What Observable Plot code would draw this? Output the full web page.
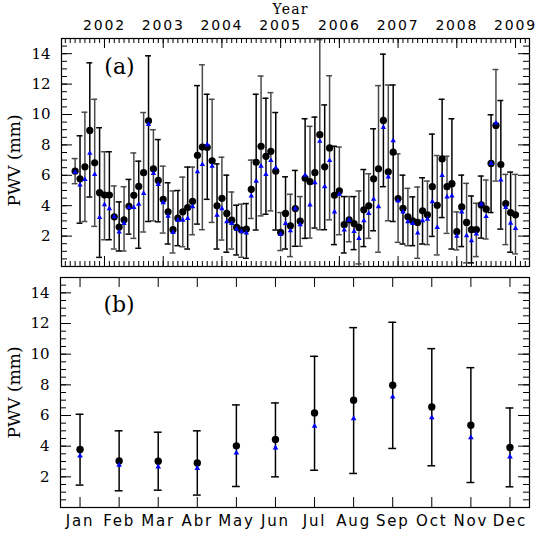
<!DOCTYPE html>
<html><head><meta charset="utf-8">
<script src="https://cdn.jsdelivr.net/npm/d3@7"></script>
<script src="https://cdn.jsdelivr.net/npm/@observablehq/plot@0.6"></script>
<style>
html,body{margin:0;padding:0;background:#fff;}
#chart{position:relative;width:558px;height:558px;background:#fff;}
#chart svg{position:absolute;left:0;}
</style></head><body><div id="chart"></div>
<script>
// Monthly series, July 2001 .. January 2009
const startYear = 2001, startMonth = 7;
const pwvMean = [6.27,5.77,6.56,8.95,6.82,4.86,
  4.70,4.70,3.27,2.60,3.07,3.96,4.68,5.27,6.17,9.59,6.43,5.66,
  4.42,3.60,2.42,3.18,3.60,3.88,4.29,7.32,7.86,7.84,6.95,3.99,
  4.49,3.49,3.05,2.57,2.40,2.46,5.08,6.86,7.91,7.25,7.58,6.27,
  2.24,3.49,2.68,3.81,2.98,5.80,5.58,6.17,8.67,6.56,7.80,4.68,
  4.97,2.75,3.07,2.83,2.57,3.73,3.99,5.77,6.43,9.61,6.23,7.52,
  4.47,3.83,3.27,3.01,2.90,3.66,3.40,5.25,4.03,7.08,5.25,5.45,
  2.29,3.92,2.90,2.42,2.42,4.05,3.77,6.78,9.28,6.71,4.14,3.55,
  3.40];
const pwvTri = [6.20,5.36,5.73,7.45,6.06,3.22,
  4.07,3.81,3.27,2.27,2.83,3.88,3.88,4.10,4.81,9.35,6.12,5.40,
  4.20,3.31,2.24,3.05,3.05,3.16,3.94,6.23,6.71,8.02,6.60,3.38,
  3.81,2.94,2.83,2.46,2.29,2.20,4.64,5.62,6.60,6.06,6.97,6.49,
  2.13,2.83,2.35,3.81,2.75,6.01,4.05,5.51,8.24,5.25,6.97,3.59,
  4.75,2.40,3.05,2.31,1.85,3.01,3.49,4.42,3.94,9.15,5.90,8.28,
  4.31,3.59,2.94,2.83,2.20,3.01,3.12,4.27,2.57,5.99,4.58,4.64,
  2.00,3.59,2.03,1.70,2.14,4.10,3.29,6.78,9.43,5.69,3.88,2.85,
  2.51];
const errLow = [5.45,2.85,2.96,4.57,2.64,0.60,
  1.76,1.76,1.15,1.02,1.02,2.13,1.85,1.20,2.27,2.96,3.00,2.94,
  2.20,1.48,0.89,1.37,1.30,1.15,2.09,2.79,2.42,4.42,2.90,1.15,
  1.74,0.94,1.15,0.76,0.61,0.54,3.16,2.40,3.33,3.44,3.66,2.40,
  1.05,1.15,0.65,1.33,1.33,1.85,1.87,2.53,2.42,2.42,3.07,1.44,
  2.09,0.89,1.63,1.11,0.17,1.31,1.85,2.35,0.94,5.25,3.01,2.96,
  1.59,1.48,1.37,1.37,0.54,1.48,1.44,1.98,0.76,3.22,2.18,1.15,
  1.09,1.31,0.24,0.24,0.65,1.87,1.81,3.55,5.62,2.46,1.44,0.94,
  0.83];
const errHigh = [7.10,8.60,10.15,13.40,11.00,9.13,
  7.55,7.55,5.30,4.25,5.25,5.73,7.47,6.93,10.13,13.86,9.00,8.35,
  6.60,5.51,4.97,5.00,5.88,6.54,6.54,11.90,13.27,11.33,11.00,6.75,
  7.19,6.01,4.90,4.03,4.10,4.14,7.00,11.33,12.53,11.07,11.44,10.13,
  3.55,5.90,4.75,6.32,4.60,9.72,9.22,9.83,14.92,10.63,12.55,7.91,
  7.86,4.60,4.60,4.60,4.97,6.38,6.10,9.06,11.90,13.97,11.94,11.94,
  7.41,6.01,5.14,4.58,5.23,5.84,5.62,8.71,7.30,11.00,7.25,9.72,
  3.59,6.01,5.47,4.64,4.16,5.95,5.69,9.98,12.96,10.92,6.06,6.21,
  6.06];
const yearTicks = [2002,2003,2004,2005,2006,2007,2008,2009];

// Monthly climatology
const monthLabels = ["Jan","Feb","Mar","Abr","May","Jun","Jul","Aug","Sep","Oct","Nov","Dec"];
const climMean = [3.78,3.04,3.02,2.91,4.02,4.43,6.17,7.00,7.97,6.56,5.36,3.91];
const climTri  = [3.37,2.76,2.65,2.56,3.56,3.89,5.30,5.80,7.21,5.86,4.56,3.31];
const climLow  = [1.46,1.09,1.13,0.81,1.37,2.00,2.43,2.22,3.85,2.72,1.63,1.35];
const climHigh = [6.08,5.00,4.91,5.00,6.69,6.82,9.86,11.73,12.08,10.36,9.12,6.49];

const yLabels = [2,4,6,8,10,12,14];

const SERIF = "DejaVu Serif", SANS = "DejaVu Sans";
const W = 558;

const monthly = pwvMean.map((v, i) => ({
  t: startYear + (startMonth - 1 + i) / 12,
  mean: v, tri: pwvTri[i], lo: errLow[i], hi: errHigh[i], k: i % 2
}));
const clim = climMean.map((v, i) => ({
  m: i + 1, label: monthLabels[i], mean: v, tri: climTri[i], lo: climLow[i], hi: climHigh[i]
}));

const yMinor = d3.range(1, 30).map(i => i / 2);

function yTickMarks(fw) {
  return [
    Plot.ruleY(yMinor, {y: d => d, insetRight: fw - 6, stroke: "#000"}),
    Plot.ruleY(yLabels, {y: d => d, insetRight: fw - 11, stroke: "#000"}),
    Plot.ruleY(yMinor, {y: d => d, insetLeft: fw - 6, stroke: "#000"}),
    Plot.ruleY(yLabels, {y: d => d, insetLeft: fw - 11, stroke: "#000"}),
    Plot.text(yLabels, {y: d => d, text: d => String(d), frameAnchor: "left", dx: -11,
      textAnchor: "end", fontFamily: SERIF, fontSize: 15, fill: "#000"})
  ];
}

function errorBars(data, xKey, half, color) {
  return [
    Plot.ruleX(data, {x: xKey, y1: "lo", y2: "hi", stroke: color, strokeWidth: 1.5}),
    Plot.ruleY(data, {y: "hi", x1: d => d[xKey] - half, x2: d => d[xKey] + half, stroke: color, strokeWidth: 1.5}),
    Plot.ruleY(data, {y: "lo", x1: d => d[xKey] - half, x2: d => d[xKey] + half, stroke: color, strokeWidth: 1.5})
  ];
}

// ---------- Panel (a) ----------
const topM = {l: 61, r: 29, t: 38, b: 4}, topH = 270;
const fwT = W - topM.l - topM.r, fhT = topH - topM.t - topM.b;
const xMinor = d3.range(2001 * 12 + 4, 2009 * 12 + 3).map(m => m / 12);

const topPlot = Plot.plot({
  width: W, height: topH,
  marginLeft: topM.l, marginRight: topM.r, marginTop: topM.t, marginBottom: topM.b,
  x: {domain: [2001.268, 2009.238], axis: null},
  y: {domain: [0, 15], axis: null},
  style: {background: "transparent", overflow: "visible"},
  marks: [
    Plot.ruleX(xMinor, {x: d => d, insetBottom: fhT - 5, stroke: "#000"}),
    Plot.ruleX(yearTicks, {x: d => d, insetBottom: fhT - 10, stroke: "#000"}),
    Plot.ruleX(xMinor, {x: d => d, insetTop: fhT - 5, stroke: "#000"}),
    Plot.ruleX(yearTicks, {x: d => d, insetTop: fhT - 10, stroke: "#000"}),
    ...yTickMarks(fwT),
    ...errorBars(monthly.filter(d => d.k === 0), "t", 0.05, "#4a4a4a"),
    ...errorBars(monthly.filter(d => d.k === 1), "t", 0.05, "#000"),
    Plot.dot(monthly, {x: "t", y: "mean", r: 3.6, fill: "#000", stroke: "none"}),
    Plot.dot(monthly, {x: "t", y: "tri", symbol: "triangle", r: 2.0, fill: "#0000ff", stroke: "none"}),
    Plot.frame({stroke: "#000", strokeWidth: 1.2}),
    Plot.text(yearTicks, {x: d => d, text: d => String(d), frameAnchor: "top", lineAnchor: "bottom",
      dy: -8.5, fontFamily: SANS, fontSize: 14, fill: "#000"}),
    Plot.text(["Year"], {text: d => d, frameAnchor: "top", lineAnchor: "bottom", dx: -5, dy: -25,
      fontFamily: SERIF, fontSize: 14, fill: "#000"}),
    Plot.text(["(a)"], {text: d => d, frameAnchor: "top-left", textAnchor: "middle", lineAnchor: "bottom",
      dx: 58, dy: 35, fontFamily: SERIF, fontSize: 22, fill: "#000"}),
    Plot.text(["PWV (mm)"], {text: d => d, frameAnchor: "left", rotate: -90, textAnchor: "middle",
      dx: -47, dy: 8, fontFamily: SERIF, fontSize: 17, fill: "#000"})
  ]
});
topPlot.style.top = "0px";

// ---------- Panel (b) ----------
const botM = {l: 60, r: 29, t: 7, b: 51}, botH = 288;
const fwB = W - botM.l - botM.r, fhB = botH - botM.t - botM.b;

const botPlot = Plot.plot({
  width: W, height: botH,
  marginLeft: botM.l, marginRight: botM.r, marginTop: botM.t, marginBottom: botM.b,
  x: {domain: [0.5, 12.5], axis: null},
  y: {domain: [0, 15], axis: null},
  style: {background: "transparent", overflow: "visible"},
  marks: [
    Plot.ruleX(clim, {x: "m", insetBottom: fhB - 10, stroke: "#000"}),
    Plot.ruleX(clim, {x: "m", insetTop: fhB - 10, stroke: "#000"}),
    ...yTickMarks(fwB),
    ...errorBars(clim, "m", 0.1, "#000"),
    Plot.dot(clim, {x: "m", y: "mean", r: 3.7, fill: "#000", stroke: "none"}),
    Plot.dot(clim, {x: "m", y: "tri", symbol: "triangle", r: 2.1, fill: "#0000ff", stroke: "none"}),
    Plot.frame({stroke: "#000", strokeWidth: 1.2}),
    Plot.text(clim, {x: "m", text: "label", frameAnchor: "bottom", lineAnchor: "top", dy: 8,
      fontFamily: SANS, fontSize: 15, fill: "#000"}),
    Plot.text(["(b)"], {text: d => d, frameAnchor: "top-left", textAnchor: "middle", lineAnchor: "bottom",
      dx: 58.5, dy: 34, fontFamily: SERIF, fontSize: 22, fill: "#000"}),
    Plot.text(["PWV (mm)"], {text: d => d, frameAnchor: "left", rotate: -90, textAnchor: "middle",
      dx: -46, dy: 0, fontFamily: SERIF, fontSize: 17, fill: "#000"})
  ]
});
botPlot.style.top = "270px";

const chart = document.getElementById("chart");
chart.appendChild(topPlot);
chart.appendChild(botPlot);

// wide letter spacing for the sans labels (years, months) and the "Year" title
for (const svg of [topPlot, botPlot]) {
  d3.select(svg).selectAll("g").filter(function() {
    return this.getAttribute("font-family") === SANS;
  }).attr("letter-spacing", "1.8px");
}
d3.select(topPlot).selectAll("text").filter(function() {
  return this.textContent === "Year";
}).attr("letter-spacing", "1.2px");
</script></body></html>
